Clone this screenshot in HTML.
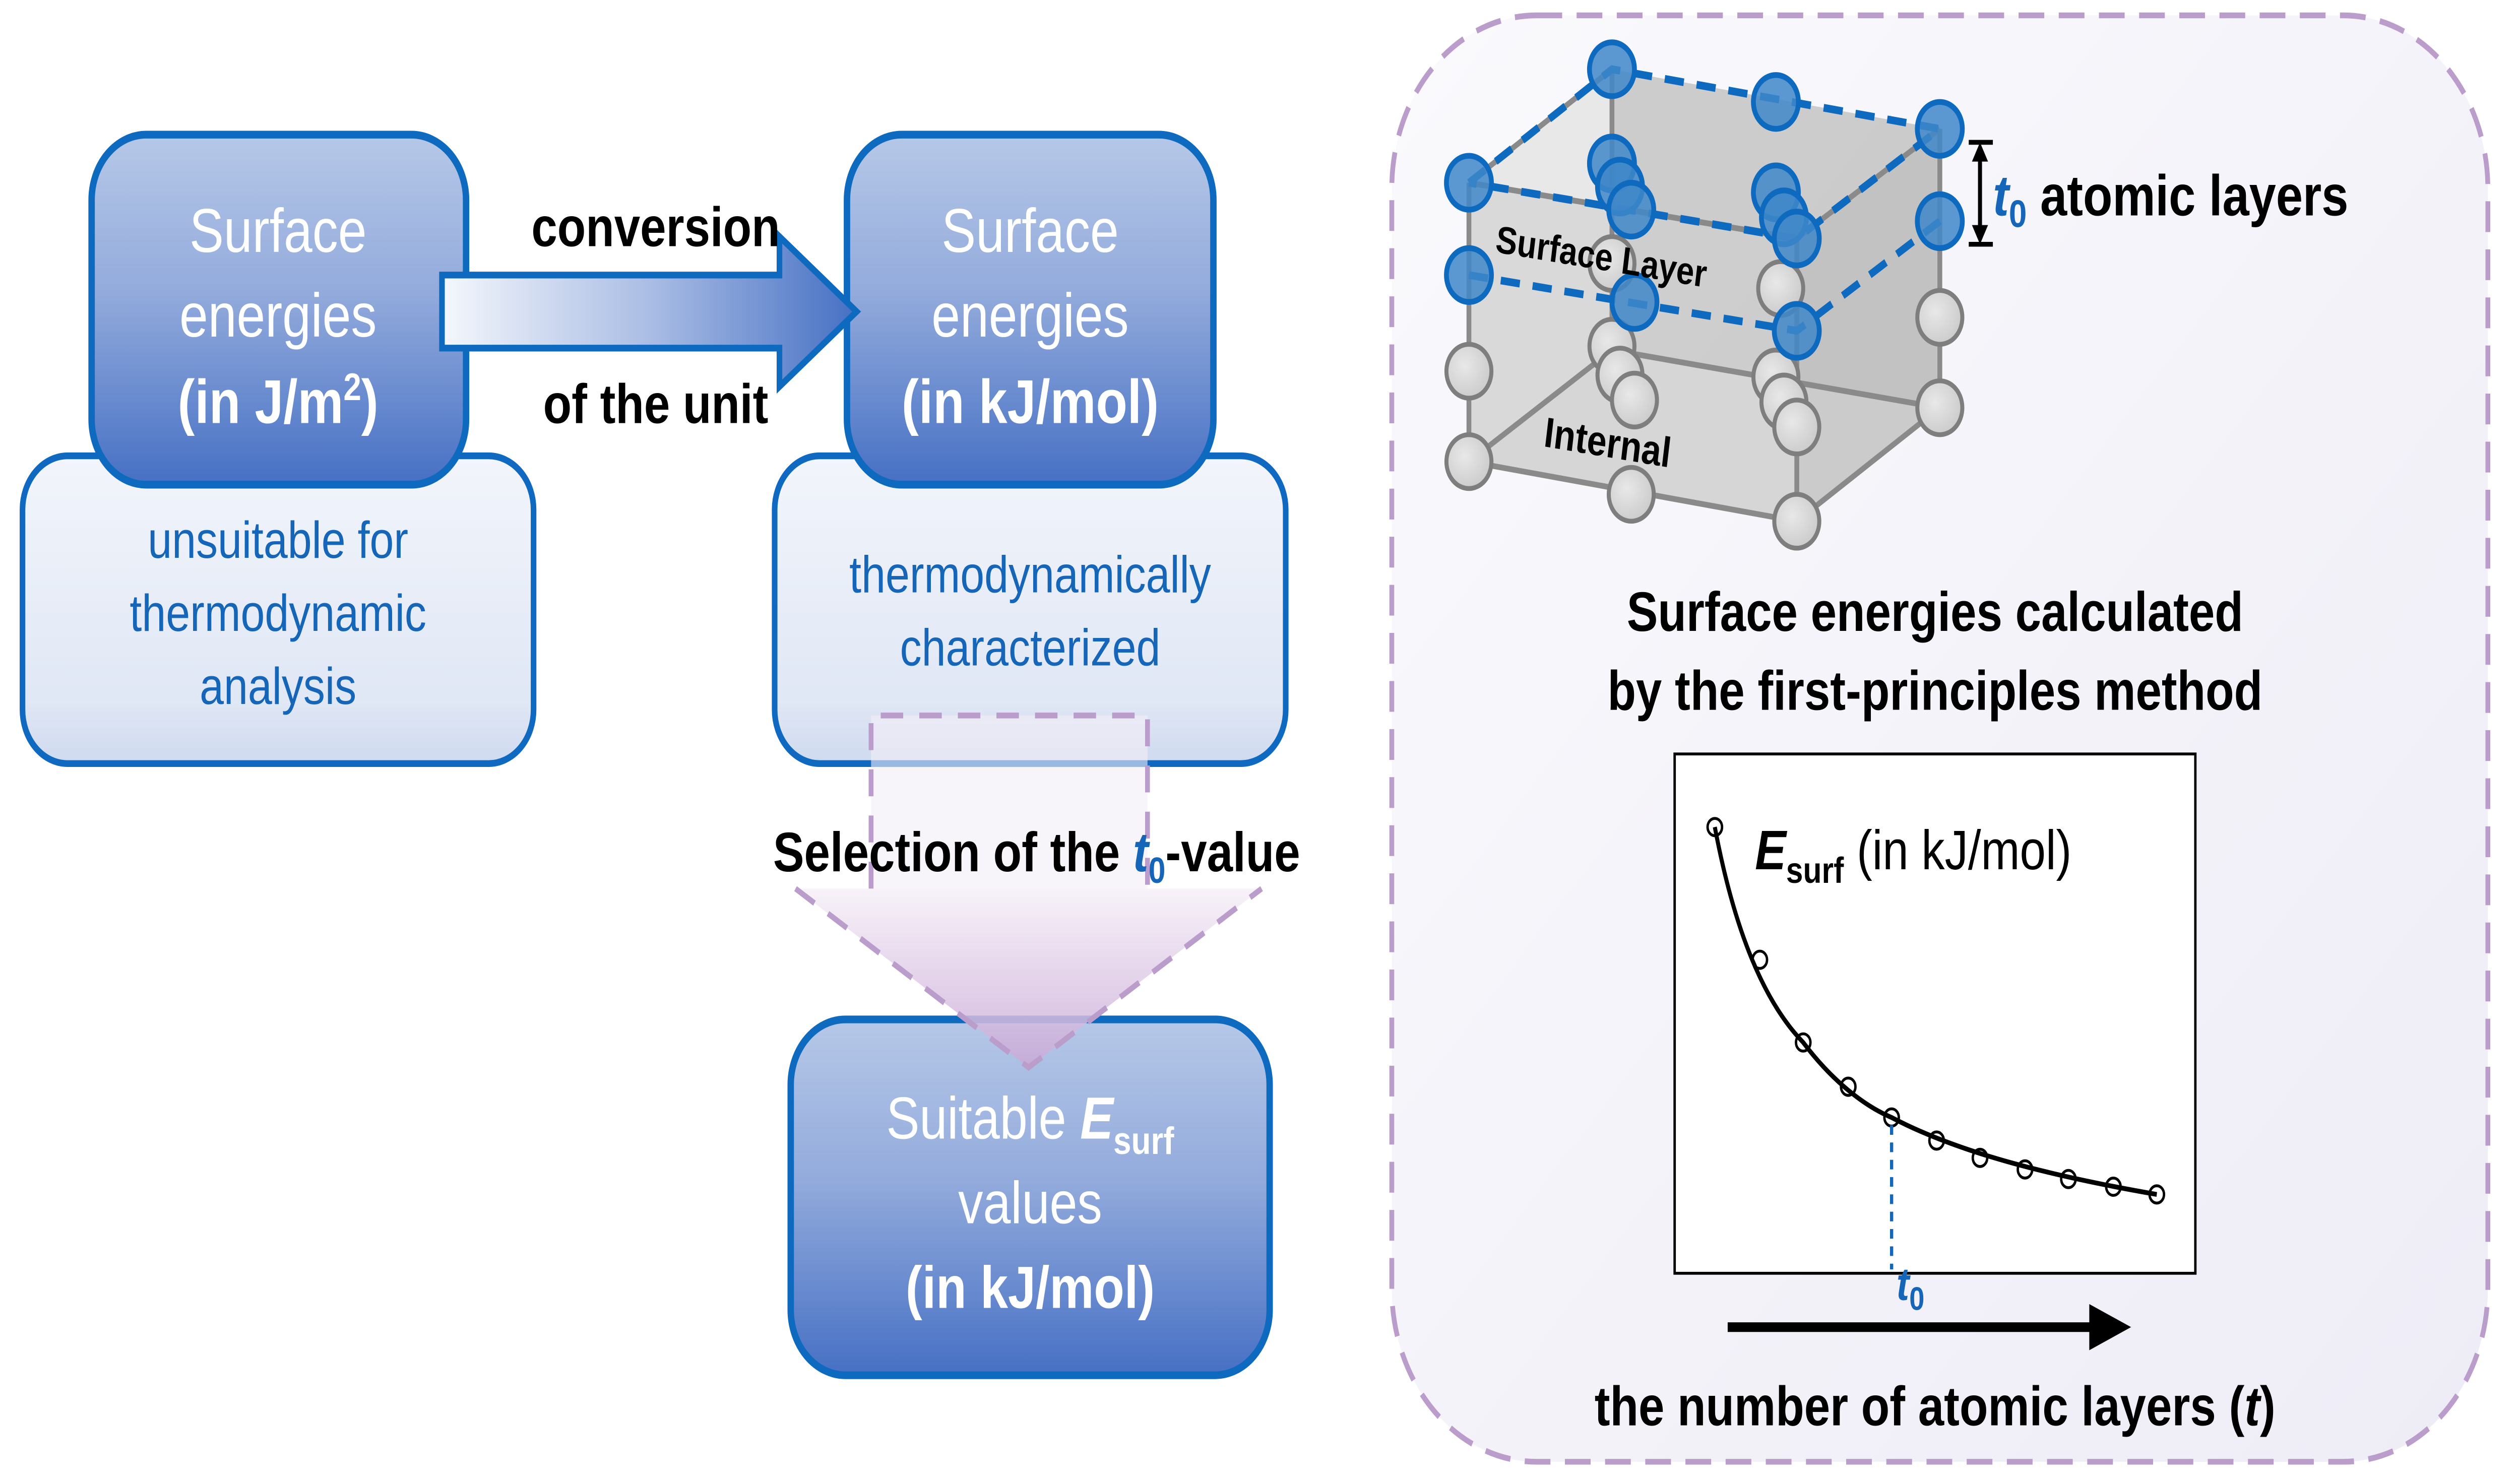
<!DOCTYPE html>
<html><head><meta charset="utf-8"><style>html,body{margin:0;padding:0;background:#fff;overflow:hidden;width:100vw;height:100vh}svg{display:block;width:100vw;height:100vh}</style></head>
<body>
<svg xmlns="http://www.w3.org/2000/svg" viewBox="0 0 1568 770" preserveAspectRatio="none" font-family="Liberation Sans, Arial, sans-serif">
<defs>
<linearGradient id="dk" x1="0" y1="0" x2="0" y2="1"><stop offset="0" stop-color="#b6c8e8"/><stop offset="0.45" stop-color="#93abdc"/><stop offset="1" stop-color="#4670c4"/></linearGradient>
<linearGradient id="lt" x1="0" y1="0" x2="0" y2="1"><stop offset="0" stop-color="#f2f5fb"/><stop offset="0.8" stop-color="#e0e7f5"/><stop offset="1" stop-color="#cfdaef"/></linearGradient>
<linearGradient id="ar" x1="0" y1="0" x2="1" y2="0"><stop offset="0" stop-color="#f4f7fc"/><stop offset="0.5" stop-color="#aabde4"/><stop offset="1" stop-color="#4670c4"/></linearGradient>
<linearGradient id="tri" x1="0" y1="0" x2="0" y2="1"><stop offset="0" stop-color="#f6f0f8"/><stop offset="1" stop-color="#c9a8d6"/></linearGradient>
<linearGradient id="pn" x1="0" y1="0" x2="1" y2="1"><stop offset="0" stop-color="#fafafd"/><stop offset="1" stop-color="#eeecf6"/></linearGradient>
<radialGradient id="ga" cx="0.4" cy="0.4" r="0.7"><stop offset="0" stop-color="#e8e8e8"/><stop offset="1" stop-color="#c8c8c8"/></radialGradient>
</defs>
<rect width="1568" height="770" fill="#fff"/>

<rect x="866" y="8" width="682" height="752" rx="90" fill="url(#pn)" stroke="#bb9dcc" stroke-width="3" stroke-dasharray="16 9"/>

<rect x="14" y="237" width="318" height="160" rx="28" fill="url(#lt)" stroke="#1069c0" stroke-width="3.5"/>
<rect x="57" y="70" width="233" height="182" rx="34" fill="url(#dk)" stroke="#0d6abf" stroke-width="4"/>
<g fill="#fff" text-anchor="middle" font-size="32">
<text x="173" y="131">Surface</text>
<text x="173" y="175">energies</text>
<text x="173" y="220" font-weight="bold">(in J/m<tspan font-size="20" dy="-12">2</tspan><tspan dy="12">)</tspan></text>
</g>
<g fill="#1565b8" text-anchor="middle" font-size="27">
<text x="173" y="290">unsuitable for</text>
<text x="173" y="328">thermodynamic</text>
<text x="173" y="366">analysis</text>
</g>

<rect x="482" y="237" width="318" height="160" rx="28" fill="url(#lt)" stroke="#1069c0" stroke-width="3.5"/>
<rect x="527" y="70" width="228" height="182" rx="34" fill="url(#dk)" stroke="#0d6abf" stroke-width="4"/>
<g fill="#fff" text-anchor="middle" font-size="32">
<text x="641" y="131">Surface</text>
<text x="641" y="175">energies</text>
<text x="641" y="220" font-weight="bold">(in kJ/mol)</text>
</g>
<g fill="#1565b8" text-anchor="middle" font-size="27">
<text x="641" y="308">thermodynamically</text>
<text x="641" y="346">characterized</text>
</g>

<path d="M275,143 H485 V123 L533,162 L485,201 V181 H275 Z" fill="url(#ar)" stroke="#0d6abf" stroke-width="3.5"/>
<g font-weight="bold" font-size="29" text-anchor="middle" fill="#000">
<text x="408" y="128">conversion</text>
<text x="408" y="220">of the unit</text>
</g>

<rect x="492" y="530" width="298" height="185" rx="34" fill="url(#dk)" stroke="#0d6abf" stroke-width="4"/>
<g fill="#fff" text-anchor="middle" font-size="31">
<text x="641" y="592">Suitable <tspan font-weight="bold" font-style="italic">E</tspan><tspan font-weight="bold" font-size="20" dy="8">surf</tspan></text>
<text x="641" y="636">values</text>
<text x="641" y="680" font-weight="bold">(in kJ/mol)</text>
</g>

<rect x="542" y="372" width="172" height="90" fill="#f4eef7" fill-opacity="0.6"/>
<path d="M495,462 L785,462 L640,555 Z" fill="url(#tri)" fill-opacity="0.85"/>
<path d="M542,462 V372 H714 V462" fill="none" stroke="#bb9dcc" stroke-width="3" stroke-dasharray="14 10"/>
<path d="M495,462 L640,555 L785,462" fill="none" stroke="#bb9dcc" stroke-width="3" stroke-dasharray="14 10"/>
<text x="645" y="453" text-anchor="middle" font-weight="bold" font-size="29" fill="#000">Selection of the <tspan fill="#1565b8" font-style="italic">t</tspan><tspan fill="#1565b8" font-size="19" dy="6">0</tspan><tspan dy="-6">-value</tspan></text>

<g>
<path d="M1003,36 L1207,67 L1207,212 L1003,182 Z" fill="#c0c0c0" fill-opacity="0.8"/>
<path d="M914,95 L1003,36 L1003,182 L914,240 Z" fill="#e3e3e3" fill-opacity="0.8"/>
<path d="M914,240 L1003,182 L1207,212 L1118,271 Z" fill="#dcdcdc" fill-opacity="0.8"/>
<path d="M914,95 L1118,124 L1118,271 L914,240 Z" fill="#cfcfcf" fill-opacity="0.6"/>
<path d="M1118,124 L1207,67 L1207,212 L1118,271 Z" fill="#bcbcbc" fill-opacity="0.6"/>
<g stroke="#8a8a8a" stroke-width="3" fill="none">
<path d="M1003,36 V182 L1207,212 M1003,182 L914,240"/>
<path d="M914,95 V240 L1118,271 V124 M1118,271 L1207,212 V67"/>
<path d="M914,95 L1003,36 M1118,124 L1207,67 M914,95 L1118,124"/>
</g>
<g fill="url(#ga)" stroke="#7e7e7e" stroke-width="2.5">
<circle cx="1003" cy="137" r="14"/><circle cx="1108" cy="150" r="14"/>
<circle cx="1003" cy="180" r="14"/><circle cx="1008" cy="195" r="14"/><circle cx="1017" cy="208" r="14"/>
<circle cx="1105" cy="196" r="14"/><circle cx="1110" cy="209" r="14"/><circle cx="1118" cy="222" r="14"/>
<circle cx="914" cy="193" r="14"/><circle cx="914" cy="240" r="14"/><circle cx="1015" cy="257" r="14"/>
<circle cx="1118" cy="271" r="14"/><circle cx="1207" cy="165" r="14"/><circle cx="1207" cy="212" r="14"/>
</g>
<g stroke="#0d6abf" stroke-width="4" stroke-dasharray="12 8" fill="none">
<path d="M914,95 L1003,36 L1207,67 L1118,124 L914,95"/>
<path d="M914,143 L1118,172 L1207,115"/>
</g>
<g fill="#3f87c9" fill-opacity="0.85" stroke="#0d6abf" stroke-width="3">
<circle cx="1003" cy="36" r="14"/><circle cx="1105" cy="53" r="14"/><circle cx="1207" cy="67" r="14"/>
<circle cx="1003" cy="85" r="14"/><circle cx="1008" cy="97" r="14"/>
<circle cx="1105" cy="100" r="14"/><circle cx="1110" cy="113" r="14"/>
<circle cx="914" cy="95" r="14"/><circle cx="1015" cy="109" r="14"/><circle cx="1118" cy="124" r="14"/>
<circle cx="914" cy="143" r="14"/><circle cx="1207" cy="115" r="14"/><circle cx="1017" cy="157" r="14"/><circle cx="1118" cy="172" r="14"/>
</g>
<text x="930" y="131" font-weight="bold" font-size="20" transform="rotate(8 930 131)">Surface Layer</text>
<text x="960" y="232" font-weight="bold" font-size="22" transform="rotate(8 960 232)">Internal</text>
</g>
<g stroke="#000" stroke-width="2.5" fill="#000">
<path d="M1225,74 H1240 M1225,127 H1240 M1232,80 V121" fill="none"/>
<path d="M1227,84 L1232,74 L1237,84 Z M1227,117 L1232,127 L1237,117 Z" stroke="none"/>
</g>
<text x="1240" y="112" font-weight="bold" font-size="30" fill="#000"><tspan fill="#1565b8" font-style="italic">t</tspan><tspan fill="#1565b8" font-size="20" dy="6">0</tspan><tspan dy="-6"> atomic layers</tspan></text>

<g font-weight="bold" font-size="29" text-anchor="middle" fill="#000">
<text x="1204" y="328">Surface energies calculated</text>
<text x="1204" y="369">by the first-principles method</text>
<text x="1204" y="741">the number of atomic layers (<tspan font-style="italic">t</tspan>)</text>
</g>

<rect x="1042" y="392" width="324" height="270" fill="#fff" stroke="#000" stroke-width="1.5"/>
<path d="M1067,430 Q1085,510 1122,542 C1140,562 1160,575 1177,581 C1220,600 1280,612 1342,621" fill="none" stroke="#000" stroke-width="2.5"/>
<g fill="none" stroke="#000" stroke-width="1.5">
<circle cx="1067" cy="430" r="4.5"/><circle cx="1095" cy="499" r="4.5"/><circle cx="1122" cy="542" r="4.5"/><circle cx="1150" cy="565" r="4.5"/><circle cx="1177" cy="581" r="4.5"/><circle cx="1205" cy="593" r="4.5"/><circle cx="1232" cy="602" r="4.5"/><circle cx="1260" cy="608" r="4.5"/><circle cx="1287" cy="613" r="4.5"/><circle cx="1315" cy="617" r="4.5"/><circle cx="1342" cy="621" r="4.5"/>
</g>
<text x="1092" y="452" font-size="29" fill="#000"><tspan font-weight="bold" font-style="italic">E</tspan><tspan font-weight="bold" font-size="19" dy="7">surf</tspan><tspan dy="-7"> (in kJ/mol)</tspan></text>
<path d="M1177,585 V660" stroke="#1565b8" stroke-width="2" stroke-dasharray="5 4"/>
<text x="1180" y="676" font-weight="bold" font-style="italic" font-size="24" fill="#1565b8">t<tspan font-style="normal" font-size="17" dy="5">0</tspan></text>
<path d="M1075,690 H1305" stroke="#000" stroke-width="5"/>
<path d="M1300,678 L1326,690 L1300,702 Z" fill="#000"/>
</svg>
</body></html>
